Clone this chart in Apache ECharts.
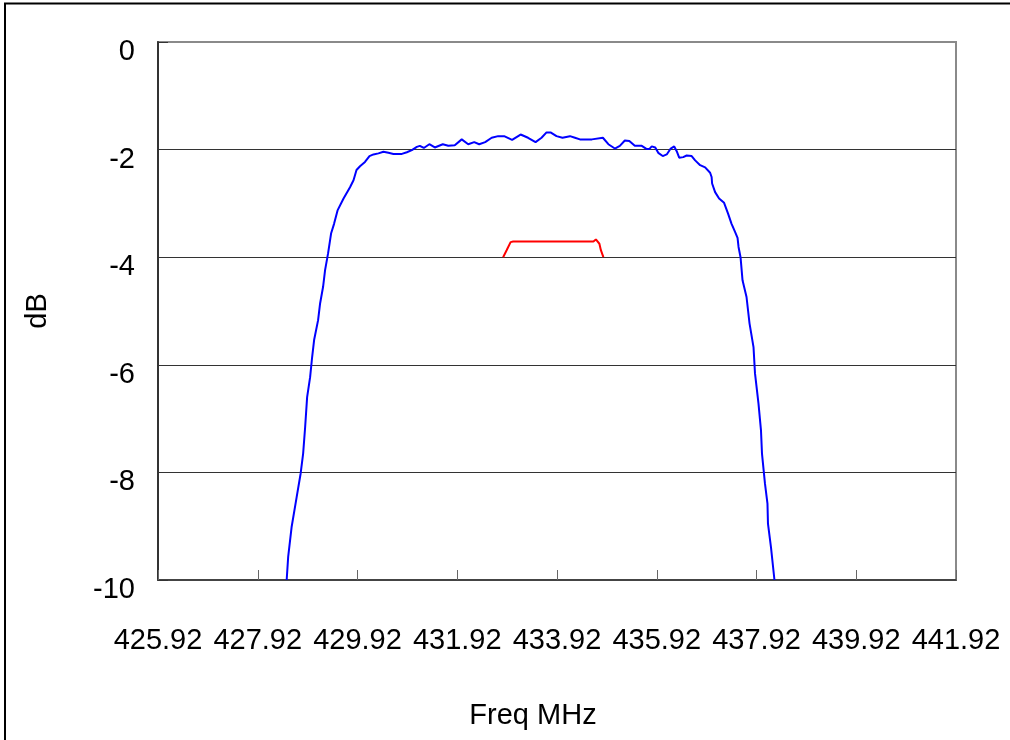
<!DOCTYPE html>
<html>
<head>
<meta charset="utf-8">
<script src="https://cdn.jsdelivr.net/npm/echarts@6/dist/echarts.min.js"></script>
<style>
  html, body { margin: 0; padding: 0; background: #fff; }
  #chart { width: 1010px; height: 740px; }
</style>
</head>
<body>
<div id="chart"></div>
<script>
const xTicks = [425.92, 427.92, 429.92, 431.92, 433.92, 435.92, 437.92, 439.92, 441.92];
const yTicks = [0, -2, -4, -6, -8, -10];

const blueFreq = [428.50, 428.53, 428.60, 428.70, 428.78, 428.83, 428.87, 428.91, 428.97, 429.01,
  429.05, 429.13, 429.17, 429.23, 429.27, 429.33, 429.39, 429.45, 429.52, 429.64,
  429.77, 429.84, 429.90, 429.97, 430.07, 430.16, 430.24, 430.34, 430.44, 430.54,
  430.64, 430.81, 430.91, 431.01, 431.11, 431.17, 431.25, 431.36, 431.47, 431.63,
  431.74, 431.87, 432.01, 432.14, 432.26, 432.36, 432.48, 432.61, 432.74, 432.86,
  433.02, 433.19, 433.34, 433.49, 433.61, 433.71, 433.79, 433.91, 434.03, 434.18,
  434.28, 434.38, 434.62, 434.66, 434.84, 434.95, 435.08, 435.18, 435.28, 435.37,
  435.48, 435.62, 435.72, 435.77, 435.82, 435.89, 435.95, 436.04, 436.12, 436.20,
  436.27, 436.32, 436.37, 436.45, 436.52, 436.62, 436.69, 436.79, 436.89, 436.99,
  437.02, 437.03, 437.09, 437.17, 437.27, 437.35, 437.42, 437.49, 437.54, 437.56,
  437.60, 437.64, 437.72, 437.78, 437.86, 437.89, 437.96, 438.01, 438.03, 438.09,
  438.14, 438.15, 438.21, 438.28];

const blueDb = [-10.0, -9.57, -9.01, -8.46, -8.02, -7.65, -7.16, -6.60, -6.23, -5.86,
  -5.54, -5.17, -4.86, -4.55, -4.24, -3.93, -3.56, -3.38, -3.13, -2.91,
  -2.70, -2.57, -2.38, -2.31, -2.23, -2.12, -2.09, -2.07, -2.04, -2.06,
  -2.08, -2.08, -2.05, -2.01, -1.95, -1.93, -1.97, -1.90, -1.96, -1.90,
  -1.93, -1.92, -1.81, -1.90, -1.86, -1.90, -1.86, -1.78, -1.75, -1.75,
  -1.82, -1.72, -1.78, -1.86, -1.78, -1.68, -1.68, -1.75, -1.78, -1.75,
  -1.78, -1.81, -1.81, -1.78, -1.78, -1.90, -1.98, -1.93, -1.83, -1.84,
  -1.93, -1.93, -1.99, -1.99, -1.94, -1.96, -2.06, -2.12, -2.09, -1.98,
  -1.94, -2.03, -2.15, -2.14, -2.11, -2.12, -2.20, -2.29, -2.33, -2.43,
  -2.51, -2.63, -2.79, -2.91, -2.99, -3.19, -3.38, -3.53, -3.64, -3.81,
  -4.00, -4.43, -4.74, -5.23, -5.67, -6.16, -6.72, -7.22, -7.65, -8.21,
  -8.58, -8.95, -9.39, -10.0];

const redFreq = [432.84, 432.91, 432.99, 433.04, 434.65, 434.70, 434.73, 434.77, 434.80, 434.85];
const redDb = [-4.00, -3.87, -3.72, -3.71, -3.71, -3.67, -3.68, -3.75, -3.87, -4.00];

const xName = 'Freq MHz';
const yName = 'dB';

const FONT = "'Liberation Sans', Arial, sans-serif";

const chart = echarts.init(document.getElementById('chart'), null, { renderer: 'canvas' });
chart.setOption({
  animation: false,
  backgroundColor: '#fff',
  grid: {
    left: 158, right: 54, top: 42, bottom: 160,
    show: true, borderColor: '#8a8a8a', borderWidth: 2, backgroundColor: 'transparent'
  },
  graphic: [
    { type: 'rect', silent: true, z: 100,
      shape: { x: 5, y: 3.5, width: 1200, height: 1000 },
      style: { fill: 'none', stroke: '#000', lineWidth: 2 } },
    { type: 'text', x: 533, y: 716, z: 100,
      style: { text: xName, font: "29px " + FONT, fill: '#000', textAlign: 'center', textVerticalAlign: 'middle' } },
    { type: 'text', x: 38, y: 311, rotation: Math.PI / 2, z: 100,
      style: { text: yName, font: "29px " + FONT, fill: '#000', textAlign: 'center', textVerticalAlign: 'middle' } }
  ],
  xAxis: {
    type: 'value',
    min: xTicks[0],
    max: xTicks[xTicks.length - 1],
    axisLine: { show: true, onZero: false, lineStyle: { color: '#444', width: 2 } },
    axisTick: { show: true, inside: true, length: 10, customValues: xTicks, lineStyle: { color: '#666', width: 1 } },
    axisLabel: { customValues: xTicks, margin: 46, fontSize: 29, fontFamily: FONT, color: '#000',
      formatter: v => v.toFixed(2) },
    splitLine: { show: false }
  },
  yAxis: {
    type: 'value',
    min: yTicks[yTicks.length - 1],
    max: yTicks[0],
    interval: 2,
    axisLine: { show: true, lineStyle: { color: '#333', width: 2 } },
    axisTick: { show: true, inside: true, length: 10, lineStyle: { color: '#333', width: 1 } },
    axisLabel: { margin: 23, fontSize: 29, fontFamily: FONT, color: '#000', verticalAlign: 'top', lineHeight: 20 },
    splitLine: { show: true, showMinLine: false, showMaxLine: false, lineStyle: { color: '#333', width: 1 } }
  },
  series: [
    {
      type: 'line',
      data: blueFreq.map((f, i) => [f, blueDb[i]]),
      showSymbol: false,
      lineStyle: { color: '#0000ff', width: 2 },
      itemStyle: { color: '#0000ff' },
      clip: true,
      z: 3
    },
    {
      type: 'line',
      data: redFreq.map((f, i) => [f, redDb[i]]),
      showSymbol: false,
      lineStyle: { color: '#ff0000', width: 2 },
      itemStyle: { color: '#ff0000' },
      clip: true,
      z: 3
    }
  ]
});
</script>
</body>
</html>
